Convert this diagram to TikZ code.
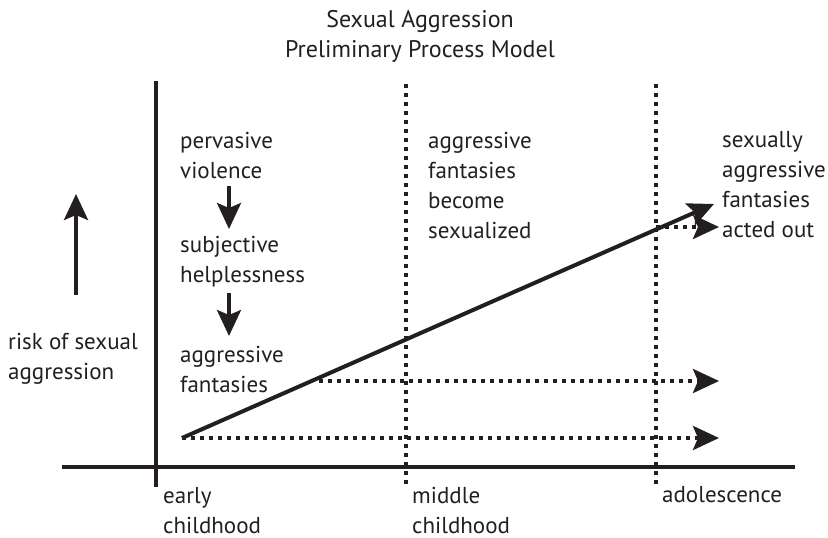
\documentclass[tikz,border=0pt]{standalone}
\usepackage{fontspec}
\setmainfont{PT Sans}
\usetikzlibrary{arrows.meta,%
                positioning}
\definecolor{ink}{HTML}{231F20}

\begin{document}
\begin{tikzpicture}[x=1pt,y=-1pt,color=ink]
\tikzstyle{lbl}=[anchor=base west,inner sep=0pt,align=left,font=\fontsize{23}{30}\selectfont]
\tikzstyle{ttl}=[anchor=base,inner sep=0pt,align=center,font=\fontsize{24}{30}\selectfont]
\tikzstyle{axis} = [draw,line width=3.5pt,-]
\tikzstyle{dots} = [draw,line width=4pt,dash pattern=on 4pt off 5pt]
\tikzstyle{head} = [-{Stealth[length=26pt,width=24pt,inset=5pt]}]
\useasboundingbox (0,0) rectangle (828,538);

% title
\draw (420,57) node[ttl] (title) {Sexual Aggression\\Preliminary Process Model};

% axes and stage lines
\coordinate (xl) at (62,467);
\coordinate (xr) at (795,467);
\coordinate (yt) at (156,81);
\coordinate (yb) at (156,487);
\coordinate (mt) at (406,84);
\coordinate (mb) at (406,487);
\coordinate (at) at (656,84);
\coordinate (ab) at (656,487);
\path[axis] (xl) -- (xr);
\path[axis] (yt) -- (yb);
\path[dots] (mt) -- (mb);
\path[dots] (at) -- (ab);

% risk arrow
\draw (8,379) node[lbl] (risk) {risk of sexual\\aggression};
\coordinate (r0) at (76,295);
\coordinate (r1) at (76,194);
\path[axis,head] (r0) -- (r1);

% early childhood chain
\draw (180,178) node[lbl] (viol) {pervasive\\violence};
\draw (180,282) node[lbl] (help) {subjective\\helplessness};
\draw (180,392) node[lbl] (fant) {aggressive\\fantasies};
\coordinate (a0) at (229,186);
\coordinate (a1) at (229,229);
\coordinate (b0) at (229,293);
\coordinate (b1) at (229,336);
\path[axis,head] (a0) -- (a1);
\path[axis,head] (b0) -- (b1);

\draw (428,238) node[lbl] (sexd) {aggressive\\fantasies\\become\\sexualized};
\draw (722,237) node[lbl] (acted) {sexually\\aggressive\\fantasies\\acted out};

% trajectory
\coordinate (s0) at (182,438);
\coordinate (s1) at (714,204);
\coordinate (e0) at (719,438);
\coordinate (d1) at (319,381);
\coordinate (e1) at (719,381);
\coordinate (d2) at (656,227);
\coordinate (e2) at (719,227);
\path[axis,line width=4pt,head] (s0) -- (s1);
\path[dots,head] (s0) -- (e0);
\path[dots,head] (d1) -- (e1);
\path[dots,head] (d2) -- (e2);

% stages
\draw (163,533) node[lbl] (early) {early\\childhood};
\draw (412,533) node[lbl] (middle) {middle\\childhood};
\draw (662,502) node[lbl] (adol) {adolescence};
\end{tikzpicture}
\end{document}
